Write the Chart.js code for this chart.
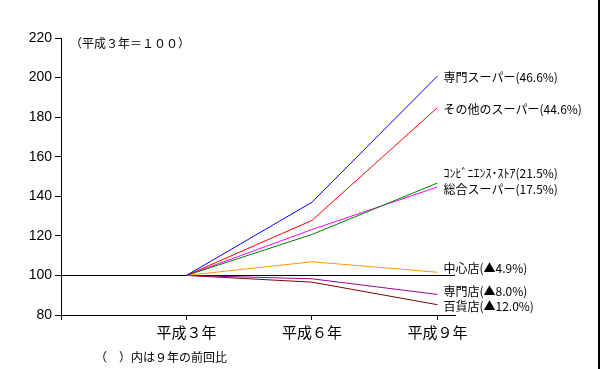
<!DOCTYPE html>
<html>
<head>
<meta charset="utf-8">
<script src="https://cdn.jsdelivr.net/npm/chart.js@4/dist/chart.umd.min.js"></script>
<style>
    body { margin: 0; background: #fff; }
</style>
</head>
<body>
<canvas id="chart1" width="600" height="369"></canvas>
<script>
// Data for the chart (平成３年＝１００)
const xLabels = ['', '平成３年', '平成６年', '平成９年'];
const xPos = [1, 2, 3];

const senmonSuper = [100, 137.0, 200.8];   // 専門スーパー
const sonotaSuper = [100, 127.8, 184.8];   // その他のスーパー
const conveni = [100, 120.7, 146.7];       // コンビニ
const sogoSuper = [100, 123.2, 144.7];     // 総合スーパー
const chushinten = [100, 106.9, 101.6];    // 中心店
const senmonten = [100, 98.3, 90.4];       // 専門店
const hyakkaten = [100, 96.6, 85.2];       // 百貨店

const endLabels = [
    '専門スーパー(46.6%)',
    'その他のスーパー(44.6%)',
    'ｺﾝﾋﾞﾆｴﾝｽ･ｽﾄｱ(21.5%)',
    '総合スーパー(17.5%)',
    '中心店(▲4.9%)',
    '専門店(▲8.0%)',
    '百貨店(▲12.0%)'
];
const yTicks = [80, 220, 20]; // min, max, step

// styles
const lineColors = ['#0000ff', '#ff0000', '#008000', '#ff00ff', '#ff9900', '#990099', '#800000'];
const labelShift = [1, 2, -10, 2, -4, -3, 2];

function toPoints(vals) {
    return vals.map((v, i) => ({ x: xPos[i], y: v }));
}

const allSeries = [senmonSuper, sonotaSuper, conveni, sogoSuper, chushinten, senmonten, hyakkaten];

const chartData1 = {
    datasets: allSeries.map((s, i) => ({
        label: endLabels[i],
        data: toPoints(s),
        borderColor: lineColors[i],
        borderWidth: 1,
        pointRadius: 0,
        tension: 0
    }))
};

// labels at line ends + notes
const textPlugin = {
    id: 'texts',
    afterDatasetsDraw(chart) {
        const ctx = chart.ctx;
        ctx.save();
        ctx.fillStyle = '#000';
        ctx.font = '12px "Noto Sans CJK JP"';
        ctx.textBaseline = 'middle';
        chart.data.datasets.forEach((ds, i) => {
            const meta = chart.getDatasetMeta(i);
            const pt = meta.data[meta.data.length - 1];
            ctx.fillText(endLabels[i], pt.x + 6, pt.y + labelShift[i]);
        });
        ctx.fillText('（平成３年＝１００）', chart.chartArea.left + 9, chart.chartArea.top + 5);
        ctx.fillText('（　）内は９年の前回比', 95, 357);
        // right frame edge
        ctx.fillRect(chart.width - 2, 0, 2, chart.height);
        ctx.restore();
    }
};

const ctx1 = document.getElementById('chart1').getContext('2d');

const chart1 = new Chart(ctx1, {
    type: 'line',
    data: chartData1,
    options: {
        responsive: false,
        animation: false,
        layout: { padding: { top: 38, right: 145, bottom: 24, left: 0 } },
        plugins: {
            legend: { display: false },
            tooltip: { enabled: false }
        },
        scales: {
            x: {
                type: 'linear',
                min: 0,
                max: 3.14,
                afterBuildTicks: (axis) => {
                    axis.ticks = [0, 1, 2, 3].map(v => ({ value: v }));
                },
                afterFit: (scale) => { scale.height = 30; },
                border: { color: '#000', width: 1 },
                grid: { drawOnChartArea: false, tickColor: '#000', tickLength: 5 },
                ticks: {
                    color: '#000',
                    padding: 3,
                    maxRotation: 0,
                    autoSkip: false,
                    font: { family: '"Noto Sans CJK JP"', size: 15 },
                    callback: (v) => xLabels[v] || ''
                }
            },
            y: {
                min: yTicks[0],
                max: yTicks[1],
                afterFit: (scale) => { scale.width = 61; },
                border: { color: '#000', width: 1 },
                grid: {
                    color: (c) => (c.tick && c.tick.value === 100) ? '#000' : 'rgba(0,0,0,0)',
                    tickColor: '#000',
                    tickLength: 6
                },
                ticks: {
                    stepSize: yTicks[2],
                    color: '#000',
                    padding: 3,
                    font: { family: '"Liberation Sans"', size: 14 }
                }
            }
        }
    },
    plugins: [textPlugin]
});
</script>
</body>
</html>
